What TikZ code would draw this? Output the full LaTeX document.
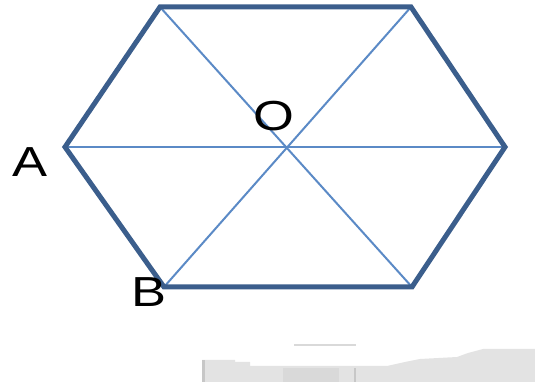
\documentclass[tikz,border=0pt]{standalone}
\usepackage{fontspec}
\setmainfont{Liberation Sans}
\usepackage{tikz}
\usetikzlibrary{positioning}

\definecolor{edgeblue}{HTML}{3B5E8C}
\definecolor{diagblue}{HTML}{5B8AC6}

\tikzset{
  hexedge/.style={line width=5pt, edgeblue, line join=miter},
  diagline/.style={line width=2pt, diagblue},
  ptlabel/.style={font=\fontsize{42}{42}\selectfont, inner sep=0pt, xscale=1.25}
}

\begin{document}
\begin{tikzpicture}[x=1pt,y=1pt]
    \useasboundingbox (0,0) rectangle (535,387);

    % Vertices
    \coordinate (tl) at (160,380);
    \coordinate (tr) at (411,380);
    \coordinate (r)  at (505,240);
    \coordinate (br) at (412,100);
    \coordinate (bl) at (164,100);
    \coordinate (l)  at (65,240);

    % Diagonals
    \draw[diagline] (tl) -- (br);
    \draw[diagline] (tr) -- (bl);
    \draw[diagline] (l) -- (r);

    % Hexagon
    \draw[hexedge] (tl) -- (tr) -- (r) -- (br) -- (bl) -- (l) -- cycle;

    % Labels
    \node[ptlabel] (labA) at (30,225) {A};
    \node[ptlabel] (labB) at (149,95) {B};
    \node[ptlabel] (labO) at (274,271) {O};

    % Grey strip at the bottom
    \fill[black!11] (202,5) -- (202,27) -- (235,27) -- (235,25) -- (250,25) -- (250,21)
        -- (387,21) -- (405,25) -- (420,28) -- (457,30) -- (468,34)
        -- (483,38) -- (535,38) -- (535,5) -- cycle;
    \fill[black!15] (283,5) rectangle (339,19);
    \fill[black!22] (202,5) rectangle (205,27);
    \fill[black!22] (354,5) rectangle (356,19);
    \fill[black!15] (294,41) rectangle (356,43);
\end{tikzpicture}
\end{document}
